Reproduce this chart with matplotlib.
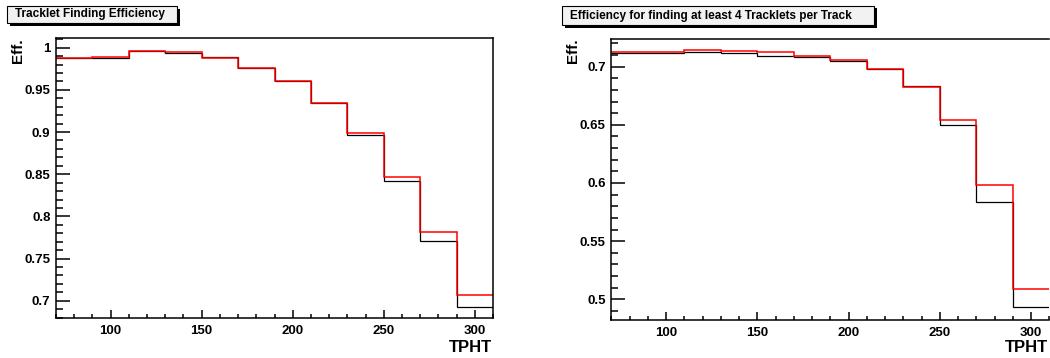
import numpy as np
import matplotlib
matplotlib.use('Agg')
import matplotlib.pyplot as plt
from matplotlib.patches import Rectangle
from matplotlib.ticker import MultipleLocator

plt.rcParams['font.family'] = ['Liberation Sans', 'DejaVu Sans']
plt.rcParams['font.weight'] = 'bold'

# TPHT bin edges (20 wide, 70..310)
edges = np.arange(70, 311, 20)

# left: tracklet finding efficiency
eff_black = [0.9874, 0.9878, 0.9960, 0.9937, 0.9890, 0.9763, 0.9610, 0.9350, 0.8960, 0.8420, 0.7710, 0.6930]
eff_red = [0.9880, 0.9890, 0.9960, 0.9950, 0.9880, 0.9763, 0.9610, 0.9350, 0.8985, 0.8470, 0.7820, 0.7068]

# right: efficiency for >= 4 tracklets per track
eff4_black = [0.7115, 0.7115, 0.7129, 0.7117, 0.7090, 0.7080, 0.7052, 0.6980, 0.6837, 0.6500, 0.5833, 0.4936]
eff4_red = [0.7124, 0.7124, 0.7146, 0.7134, 0.7124, 0.7090, 0.7057, 0.6980, 0.6828, 0.6543, 0.5980, 0.5089]

titles = ['Tracklet Finding Efficiency', 'Efficiency for finding at least 4 Tracklets per Track']

W, H = 1050, 358
fig = plt.figure(figsize=(W / 100, H / 100), dpi=100)


def px_axes(x0, x1, ytop, ybot):
    return fig.add_axes([x0 / W, (H - ybot) / H, (x1 - x0) / W, (ybot - ytop) / H])


def title_box(x0, x1, ytop, ybot, text):
    sh = 2.5
    fig.patches.append(Rectangle(((x0 + sh) / W, (H - ybot - sh) / H), (x1 - x0) / W, (ybot - ytop) / H,
                                 transform=fig.transFigure, facecolor='black', edgecolor='none', zorder=1))
    fig.patches.append(Rectangle((x0 / W, (H - ybot) / H), (x1 - x0) / W, (ybot - ytop) / H,
                                 transform=fig.transFigure, facecolor='#f2f2f2',
                                 edgecolor='black', linewidth=0.8, zorder=2))
    fig.text((x0 + 8) / W, (H - (ytop + ybot) / 2) / H, text, ha='left', va='center',
             fontsize=8.5, fontweight='bold', zorder=3)


def style(ax, ylim):
    ax.set_xlim(70, 310)
    ax.set_ylim(*ylim)
    ax.xaxis.set_major_locator(MultipleLocator(50))
    ax.xaxis.set_minor_locator(MultipleLocator(10))
    ax.yaxis.set_major_locator(MultipleLocator(0.05))
    ax.yaxis.set_minor_locator(MultipleLocator(0.01))
    ax.yaxis.set_major_formatter(plt.FuncFormatter(lambda v, p: ('%.2f' % v).rstrip('0').rstrip('.')))
    ax.tick_params(axis='y', which='major', direction='in', length=10, width=1.1, pad=4, labelsize=9.5)
    ax.tick_params(axis='y', which='minor', direction='in', length=5, width=1.1)
    ax.tick_params(axis='x', which='major', direction='in', length=6, width=1.1, pad=5, labelsize=9.5)
    ax.tick_params(axis='x', which='minor', direction='in', length=3, width=1.1)
    for lab in ax.get_xticklabels() + ax.get_yticklabels():
        lab.set_fontweight('bold')
    for s in ax.spines.values():
        s.set_linewidth(1.1)


# left panel
ax1 = px_axes(56, 493, 38, 318)
ax1.stairs(eff_black, edges, color='black', linewidth=0.9, baseline=None)
ax1.stairs(eff_red, edges, color='red', linewidth=1.1, baseline=None)
style(ax1, (0.6795, 1.0115))
fig.text(492 / W, (H - 347) / H, 'TPHT', ha='right', va='center', fontsize=12, fontweight='bold')
fig.text(18 / W, (H - 38) / H, 'Eff.', ha='center', va='top', rotation=90, fontsize=11, fontweight='bold')
title_box(7, 177, 6, 23, titles[0])

# right panel (frame runs off the right edge)
ax2 = px_axes(611.3, 1049.4, 39, 320)
ax2.stairs(eff4_black, edges, color='black', linewidth=0.9, baseline=None)
ax2.stairs(eff4_red, edges, color='red', linewidth=1.1, baseline=None)
style(ax2, (0.4822, 0.7238))
ax2.spines['right'].set_visible(False)
fig.text(1048 / W, (H - 347) / H, 'TPHT', ha='right', va='center', fontsize=12, fontweight='bold')
fig.text(573 / W, (H - 38) / H, 'Eff.', ha='center', va='top', rotation=90, fontsize=11, fontweight='bold')
title_box(562, 874, 6, 25, titles[1])

fig.savefig('out.png', dpi=100)
